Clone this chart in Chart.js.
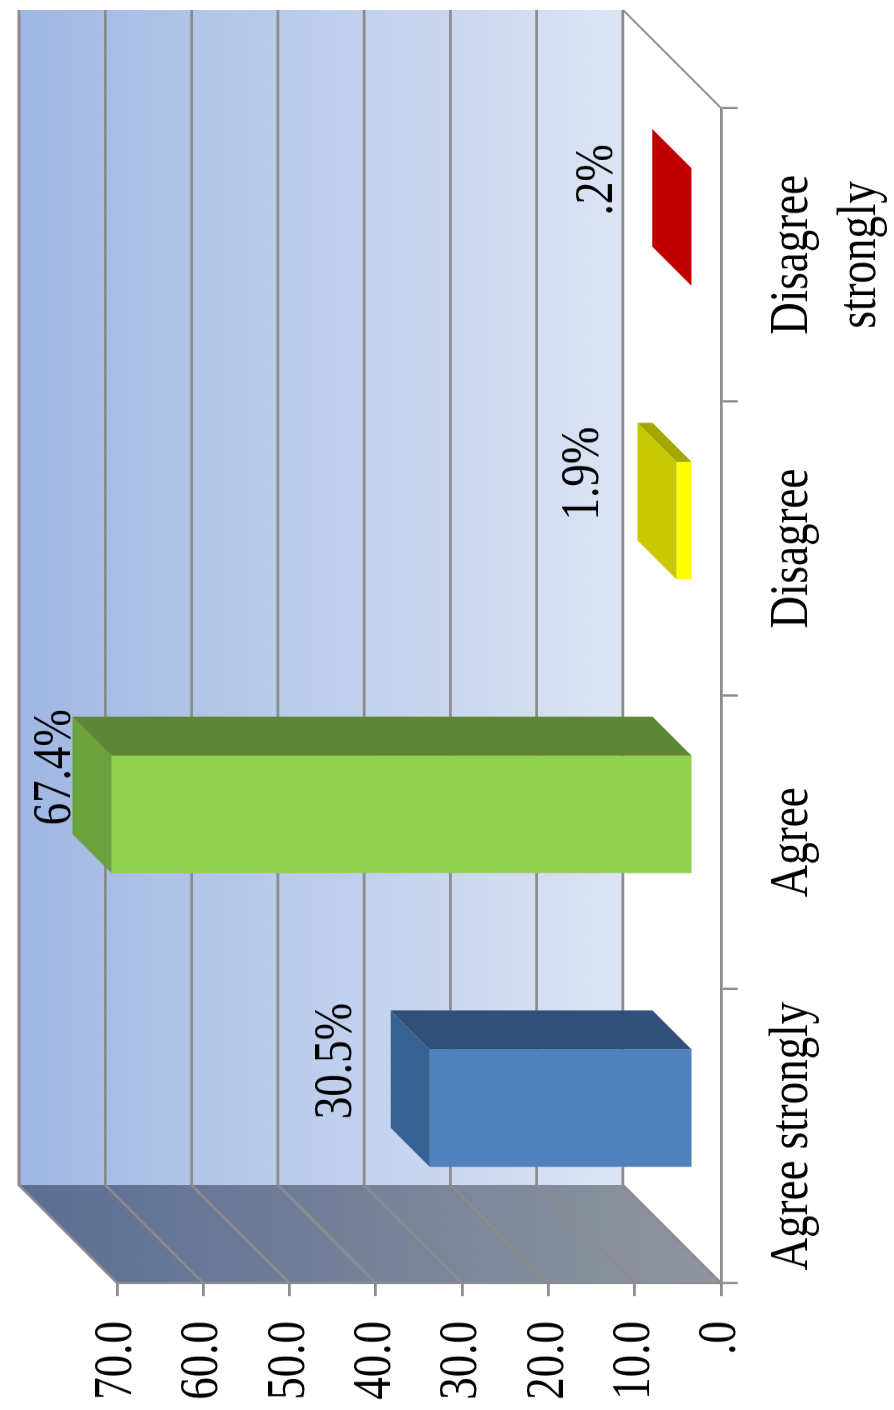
<!DOCTYPE html>
<html>
<head>
<meta charset="utf-8">
<script src="https://cdn.jsdelivr.net/npm/chart.js@4.4.1/dist/chart.umd.min.js"></script>
<style>
  html, body { margin: 0; padding: 0; background: #fff; }
  body { width: 894px; height: 1410px; overflow: hidden; position: relative; }
  /* chart is drawn lying on its side, then turned and stretched like the original */
  #wrap { position: absolute; left: 0; top: 0; width: 1410px; height: 745px;
          transform-origin: 0 0; transform: translateY(1410px) rotate(-90deg) scaleY(1.2); }
</style>
</head>
<body>
<div id="wrap"><canvas id="opinionChart"></canvas></div>
<script>
const categories = ['Agree strongly', 'Agree', 'Disagree', ['Disagree', 'strongly']];
const percentages = [30.5, 67.4, 1.9, 0.2];
const yTicks = [0, 10, 20, 30, 40, 50, 60, 70];
const yTickLabels = ['.0', '10.0', '20.0', '30.0', '40.0', '50.0', '60.0', '70.0'];

const frontColors = ['#4F81BD', '#92D050', '#FFFF00', '#E00000'];
const topColors = ['#386292', '#6AA23B', '#C8C800', '#C00000'];
const sideColors = ['#2F5079', '#5E8634', '#A6A600', '#900000'];

const SY = 1.2;          // vertical stretch applied by css
const DEPTH = 98;        // depth of the walls
const BAR_GAP = 28;      // bar front face sits behind the axis plane
const BAR_DEPTH = 39;
const GRID = '#8C8C8C';
const FONT = "'Liberation Serif', 'Times New Roman', serif";

function fmt(v) {
    return v.toFixed(1).replace(/^0\./, '.') + '%';
}

function poly(ctx, pts) {
    ctx.beginPath();
    ctx.moveTo(pts[0][0], pts[0][1]);
    for (let i = 1; i < pts.length; i++) ctx.lineTo(pts[i][0], pts[i][1]);
    ctx.closePath();
    ctx.fill();
}

const bars3d = {
    id: 'bars3d',
    beforeDraw(chart) {
        const {ctx, chartArea: a} = chart;
        const y = chart.scales.y;
        const dx = DEPTH, dy = DEPTH / SY;
        ctx.save();
        // back wall
        let g = ctx.createLinearGradient(0, a.top - dy, 0, a.bottom - dy);
        g.addColorStop(0, '#9FB7E3');
        g.addColorStop(1, '#DCE4F4');
        ctx.fillStyle = g;
        ctx.fillRect(a.left + dx, a.top - dy, a.right - a.left, a.bottom - a.top);
        // side wall
        g = ctx.createLinearGradient(0, a.top - dy, 0, a.bottom);
        g.addColorStop(0, '#5B6E94');
        g.addColorStop(1, '#90959E');
        ctx.fillStyle = g;
        poly(ctx, [[a.left, a.top], [a.left + dx, a.top - dy], [a.left + dx, a.bottom - dy], [a.left, a.bottom]]);
        // grid lines on both walls
        ctx.strokeStyle = GRID;
        ctx.lineWidth = 2.3;
        yTicks.forEach(t => {
            const py = y.getPixelForValue(t);
            ctx.beginPath();
            ctx.moveTo(a.left, py);
            ctx.lineTo(a.left + dx, py - dy);
            ctx.lineTo(a.right + dx, py - dy);
            ctx.stroke();
        });
        // floor edge
        ctx.lineWidth = 1.8;
        ctx.beginPath();
        ctx.moveTo(a.right + dx, a.bottom - dy);
        ctx.lineTo(a.right, a.bottom);
        ctx.stroke();
        ctx.restore();
    },
    beforeDatasetsDraw(chart) {
        const {ctx} = chart;
        const meta = chart.getDatasetMeta(0);
        // value labels go under the bars
        ctx.save();
        ctx.font = '45px ' + FONT;
        ctx.fillStyle = '#000';
        ctx.textAlign = 'center';
        ctx.textBaseline = 'alphabetic';
        meta.data.forEach((bar, i) => {
            const backTop = bar.y - (BAR_GAP + BAR_DEPTH) / SY;
            const by = Math.max(backTop - 40 / SY, 70 / SY);
            ctx.fillText(fmt(percentages[i]), bar.x + BAR_GAP + BAR_DEPTH + 8, by);
        });
        ctx.restore();
        // push the front faces back
        ctx.save();
        ctx.translate(BAR_GAP, -BAR_GAP / SY);
    },
    afterDatasetsDraw(chart) {
        const {ctx} = chart;
        ctx.restore();
        const meta = chart.getDatasetMeta(0);
        const ox = BAR_GAP, oy = -BAR_GAP / SY;
        const dx = BAR_DEPTH, dy = BAR_DEPTH / SY;
        ctx.save();
        meta.data.forEach((bar, i) => {
            const p = bar.getProps(['x', 'y', 'base', 'width'], true);
            const l = p.x - p.width / 2 + ox, r = p.x + p.width / 2 + ox;
            const t = p.y + oy, b = p.base + oy;
            ctx.fillStyle = topColors[i];
            poly(ctx, [[l, t], [r, t], [r + dx, t - dy], [l + dx, t - dy]]);
            ctx.fillStyle = sideColors[i];
            poly(ctx, [[r, t], [r, b], [r + dx, b - dy], [r + dx, t - dy]]);
        });
        ctx.restore();
    }
};

const ctx = document.getElementById('opinionChart').getContext('2d');
const myChart = new Chart(ctx, {
    type: 'bar',
    data: {
        labels: categories,
        datasets: [{
            data: percentages,
            backgroundColor: frontColors,
            borderWidth: 0,
            barPercentage: 0.4,
            categoryPercentage: 1.0,
            clip: false
        }]
    },
    options: {
        responsive: true,
        maintainAspectRatio: false,
        devicePixelRatio: 1.2,
        animation: false,
        layout: { padding: { top: 97.5, right: 108, bottom: 0, left: 0 } },
        plugins: {
            legend: { display: false },
            tooltip: { enabled: false }
        },
        scales: {
            x: {
                grid: { drawOnChartArea: false, drawTicks: true, tickLength: 14, color: GRID, lineWidth: 2.3 },
                border: { display: true, color: GRID, width: 2.3 },
                ticks: {
                    color: '#000',
                    font: { family: FONT, size: 45, lineHeight: 1.25 },
                    padding: 18,
                    maxRotation: 0,
                    autoSkip: false
                },
                afterFit(scale) { scale.height = 144.2; }
            },
            y: {
                min: 0,
                max: 70,
                afterBuildTicks(scale) { scale.ticks = yTicks.map(v => ({ value: v })); },
                grid: { drawOnChartArea: false, drawTicks: true, tickLength: 13, color: GRID, lineWidth: 2.3 },
                border: { display: true, color: GRID, width: 2.3 },
                ticks: {
                    color: '#000',
                    font: { family: FONT, size: 45 },
                    padding: 25,
                    callback: (v, i) => yTickLabels[i]
                },
                afterFit(scale) { scale.width = 127; }
            }
        }
    },
    plugins: [bars3d]
});
</script>
</body>
</html>
